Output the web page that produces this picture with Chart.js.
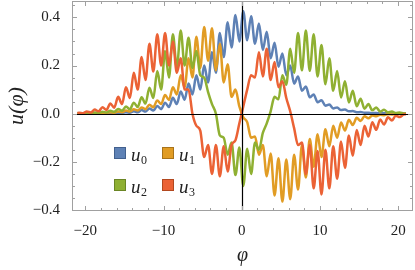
<!DOCTYPE html>
<html>
<head>
<meta charset="utf-8">
<script src="https://cdn.jsdelivr.net/npm/chart.js@4.4.1/dist/chart.umd.min.js"></script>
<style>
  html, body { margin: 0; padding: 0; background: #fff; }
  #wrap { width: 415px; height: 270px; }
</style>
</head>
<body>
<div id="wrap"><canvas id="myChart" width="415" height="270"></canvas></div>
<script>

// sample points (peaks and troughs of the fast ripple)
const phi = [-21,
  -20.8, -20.3, -19.8, -19.3, -18.8, -18.3, -17.8, -17.3, -16.8, -16.3,
  -15.8, -15.3, -14.8, -14.3, -13.8, -13.3, -12.8, -12.3, -11.8, -11.3,
  -10.8, -10.3, -9.8, -9.3, -8.8, -8.3, -7.8, -7.3, -6.8, -6.3,
  -5.8, -5.3, -4.8, -4.3, -3.8, -3.3, -2.8, -2.3, -1.8, -1.3,
  -0.8, -0.3, 0.2, 0.7, 1.2, 1.7, 2.2, 2.7, 3.2, 3.7,
  4.2, 4.7, 5.2, 5.7, 6.2, 6.7, 7.2, 7.7, 8.2, 8.7,
  9.2, 9.7, 10.2, 10.7, 11.2, 11.7, 12.2, 12.7, 13.2, 13.7,
  14.2, 14.7, 15.2, 15.7, 16.2, 16.7, 17.2, 17.7, 18.2, 18.7,
  19.2, 19.7, 20.2, 20.7, 21];

const u0 = [0,
  0.000, 0.000, 0.001, 0.000, 0.001, 0.001, 0.002, 0.001, 0.003, 0.002,
  0.004, 0.003, 0.006, 0.004, 0.010, 0.006, 0.015, 0.009, 0.022, 0.013,
  0.032, 0.019, 0.046, 0.028, 0.066, 0.040, 0.092, 0.058, 0.125, 0.080,
  0.160, 0.100, 0.200, 0.130, 0.255, 0.170, 0.335, 0.235, 0.380, 0.275,
  0.410, 0.300, 0.425, 0.305, 0.405, 0.290, 0.375, 0.265, 0.340, 0.230,
  0.295, 0.195, 0.250, 0.160, 0.200, 0.125, 0.155, 0.095, 0.113, 0.068,
  0.080, 0.048, 0.056, 0.033, 0.038, 0.022, 0.026, 0.015, 0.017, 0.010,
  0.011, 0.006, 0.007, 0.004, 0.004, 0.002, 0.003, 0.001, 0.002, 0.001,
  0.001, 0.000, 0.001, 0.000, 0];

const u1 = [0.001,
  0.001, 0.001, 0.002, 0.001, 0.003, 0.002, 0.004, 0.003, 0.006, 0.004,
  0.009, 0.006, 0.013, 0.009, 0.018, 0.013, 0.026, 0.019, 0.037, 0.027,
  0.055, 0.040, 0.078, 0.057, 0.110, 0.080, 0.160, 0.110, 0.230, 0.150,
  0.320, 0.190, 0.360, 0.220, 0.355, 0.180, 0.290, 0.130, 0.205, 0.070,
  0.100, 0.030, -0.015, -0.035, -0.100, -0.095, -0.170, -0.130, -0.260, -0.165,
  -0.340, -0.185, -0.365, -0.190, -0.355, -0.170, -0.315, -0.130, -0.265, -0.105,
  -0.220, -0.085, -0.180, -0.065, -0.135, -0.050, -0.100, -0.036, -0.070, -0.025,
  -0.047, -0.017, -0.030, -0.011, -0.019, -0.007, -0.011, -0.004, -0.006, -0.002,
  -0.003, -0.001, -0.001, 0.000, 0];

const u2 = [0.001,
  0.002, 0.001, 0.003, 0.002, 0.005, 0.003, 0.008, 0.005, 0.012, 0.008,
  0.020, 0.012, 0.030, 0.018, 0.046, 0.028, 0.068, 0.042, 0.108, 0.065,
  0.177, 0.100, 0.260, 0.150, 0.330, 0.190, 0.345, 0.200, 0.315, 0.190,
  0.260, 0.160, 0.150, 0.090, 0.040, 0.000, -0.090, -0.100, -0.170, -0.120,
  -0.255, -0.140, -0.300, -0.145, -0.250, -0.120, -0.150, -0.080, -0.040, 0.010,
  0.070, 0.060, 0.160, 0.120, 0.270, 0.170, 0.335, 0.180, 0.345, 0.178,
  0.330, 0.155, 0.285, 0.122, 0.230, 0.095, 0.177, 0.067, 0.135, 0.047,
  0.095, 0.031, 0.062, 0.021, 0.040, 0.014, 0.026, 0.009, 0.016, 0.005,
  0.009, 0.003, 0.005, 0.001, 0.001];

const u3 = [0.002,
  0.004, 0.002, 0.009, 0.005, 0.017, 0.010, 0.027, 0.016, 0.042, 0.025,
  0.070, 0.040, 0.110, 0.065, 0.170, 0.100, 0.235, 0.140, 0.290, 0.175,
  0.330, 0.200, 0.335, 0.200, 0.300, 0.170, 0.230, 0.100, 0.100, 0.000,
  -0.050, -0.070, -0.180, -0.130, -0.250, -0.130, -0.260, -0.135, -0.240, -0.130,
  -0.110, -0.040, 0.030, 0.100, 0.160, 0.150, 0.255, 0.155, 0.270, 0.140,
  0.215, 0.110, 0.135, 0.065, 0.010, -0.060, -0.130, -0.120, -0.250, -0.130,
  -0.310, -0.155, -0.335, -0.150, -0.310, -0.135, -0.270, -0.115, -0.225, -0.090,
  -0.175, -0.068, -0.130, -0.050, -0.095, -0.035, -0.067, -0.024, -0.045, -0.015,
  -0.028, -0.008, -0.014, -0.003, -0.002];

const seriesNames = ['u0', 'u1', 'u2', 'u3'];
const seriesColors = ['#5E81B5', '#E19C24', '#8FB032', '#EB6235'];
const seriesEdges = ['#42608E', '#A8731A', '#6A8524', '#B2481F'];

const xTicks = [-20, -10, 0, 10, 20];
const xTickLabels = ['\u221220', '\u221210', '0', '10', '20'];
const yTicks = [-0.4, -0.2, 0, 0.2, 0.4];
const yTickLabels = ['\u22120.4', '\u22120.2', '0.0', '0.2', '0.4'];

const frameColor = '#a0a0a0';
const serif = "'Liberation Serif', 'Times New Roman', serif";

// frame with inward ticks, zero axes in front, legend inside the plot
const framePlugin = {
    id: 'frame',
    afterDatasetsDraw(chart) {
        const ctx = chart.ctx;
        const a = chart.chartArea;
        const x = chart.scales.x;
        const y = chart.scales.y;

        ctx.save();
        ctx.strokeStyle = '#000';
        ctx.lineWidth = 1.2;
        let x0 = Math.round(x.getPixelForValue(0)) + 0.5;
        let y0 = Math.round(y.getPixelForValue(0)) + 0.5;
        ctx.beginPath();
        ctx.moveTo(a.left, y0); ctx.lineTo(a.right, y0);
        ctx.moveTo(x0, a.top); ctx.lineTo(x0, a.bottom);
        ctx.stroke();

        ctx.strokeStyle = frameColor;
        ctx.lineWidth = 1;
        ctx.strokeRect(a.left + 0.5, a.top + 0.5, a.right - a.left - 1, a.bottom - a.top - 1);

        ctx.beginPath();
        for (let v = -20; v <= 20; v += 2) {
            let px = Math.round(x.getPixelForValue(v)) + 0.5;
            let len = v % 10 === 0 ? 5 : 3;
            ctx.moveTo(px, a.bottom); ctx.lineTo(px, a.bottom - len);
            ctx.moveTo(px, a.top); ctx.lineTo(px, a.top + len);
        }
        for (let k = -8; k <= 9; k++) {
            let py = Math.round(y.getPixelForValue(k * 0.05)) + 0.5;
            let len = k % 4 === 0 ? 5 : 3;
            ctx.moveTo(a.left, py); ctx.lineTo(a.left + len, py);
            ctx.moveTo(a.right, py); ctx.lineTo(a.right - len, py);
        }
        ctx.stroke();
        ctx.restore();
    },
    afterDraw(chart) {
        const ctx = chart.ctx;
        ctx.save();
        chart.data.datasets.forEach(function(ds, i) {
            let bx = i % 2 === 0 ? 114 : 162;
            let cy = i < 2 ? 153 : 185;
            ctx.fillStyle = seriesColors[i];
            ctx.strokeStyle = seriesEdges[i];
            ctx.lineWidth = 1;
            ctx.fillRect(bx, cy - 6, 12, 12);
            ctx.strokeRect(bx + 0.5, cy - 5.5, 11, 11);

            ctx.fillStyle = '#222';
            ctx.textBaseline = 'alphabetic';
            ctx.textAlign = 'left';
            ctx.font = 'italic 19px ' + serif;
            let name = ds.label;
            ctx.fillText(name.charAt(0), bx + 17, cy + 7.5);
            let w = ctx.measureText(name.charAt(0)).width;
            ctx.font = '12px ' + serif;
            ctx.fillText(name.slice(1), bx + 17 + w + 0.5, cy + 11);
        });
        ctx.restore();
    }
};

let ctx = document.getElementById('myChart').getContext('2d');

let datasets = [u0, u1, u2, u3].map(function(vals, i) {
    return {
        label: seriesNames[i],
        data: phi.map(function(p, j) { return {x: p, y: vals[j]}; }),
        borderColor: seriesColors[i],
        borderWidth: 2.5,
        pointRadius: 0,
        fill: false,
        cubicInterpolationMode: 'monotone',
        order: 3 - i
    };
});

let myChart = new Chart(ctx, {
    type: 'line',
    data: { datasets: datasets },
    options: {
        responsive: false,
        devicePixelRatio: 1,
        animation: false,
        layout: { padding: { top: 1, right: 2, left: 0, bottom: 0 } },
        plugins: {
            legend: { display: false },
            tooltip: { enabled: false }
        },
        scales: {
            x: {
                type: 'linear',
                min: -21.7,
                max: 21.9,
                grid: { display: false },
                border: { display: false },
                afterBuildTicks: function(scale) {
                    scale.ticks = xTicks.map(function(v) { return {value: v}; });
                },
                afterFit: function(scale) {
                    scale.height = 59;
                    scale.paddingLeft = 0;
                    scale.paddingRight = 0;
                },
                ticks: {
                    maxRotation: 0,
                    autoSkip: false,
                    padding: 3,
                    color: '#222',
                    font: { family: serif, size: 15 },
                    callback: function(v, i) { return xTickLabels[i]; }
                },
                title: {
                    display: true,
                    text: '\u03c6',
                    color: '#222',
                    padding: { top: 0, bottom: 2 },
                    font: { family: serif, size: 20, style: 'italic' }
                }
            },
            y: {
                min: -0.404,
                max: 0.468,
                grid: { display: false },
                border: { display: false },
                afterBuildTicks: function(scale) {
                    scale.ticks = yTicks.map(function(v) { return {value: v}; });
                },
                afterFit: function(scale) {
                    scale.width = 72;
                    scale.paddingTop = 0;
                    scale.paddingBottom = 0;
                },
                ticks: {
                    padding: 4,
                    color: '#222',
                    font: { family: serif, size: 15 },
                    callback: function(v, i) { return yTickLabels[i]; }
                },
                title: {
                    display: true,
                    text: 'u(\u03c6)',
                    color: '#222',
                    padding: { top: 4, bottom: 0 },
                    font: { family: serif, size: 22, style: 'italic' }
                }
            }
        }
    },
    plugins: [framePlugin]
});
</script>
</body>
</html>
